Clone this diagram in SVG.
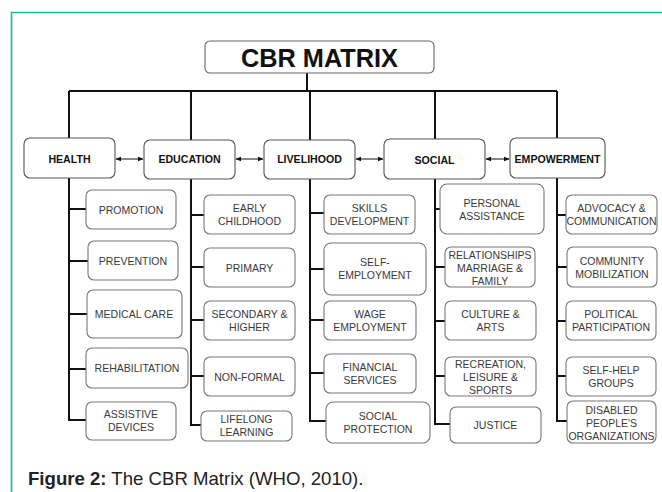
<svg xmlns="http://www.w3.org/2000/svg" width="662" height="492" viewBox="0 0 662 492">
<style>
.frame{stroke:#1cb99a;stroke-width:1.6;fill:none}
.cat rect{fill:#fff;stroke:#555;stroke-width:1.1}
.cat text{font-family:"Liberation Sans",Arial,sans-serif;font-weight:bold;font-size:10.6px;fill:#111;text-anchor:middle}
.sub rect{fill:#fff;stroke:#777;stroke-width:1.1}
.sub text{font-family:"Liberation Sans",Arial,sans-serif;font-size:10.5px;fill:#3a3a3a;text-anchor:middle}
.conn path{stroke:#111;stroke-width:2;fill:none}
.arr line{stroke:#111;stroke-width:1;marker-start:url(#ah);marker-end:url(#ah)}
.cap{font-family:"Liberation Sans",Arial,sans-serif;font-size:18.6px;fill:#222}
</style>
<defs>
<marker id="ah" viewBox="0 0 10 10" refX="9" refY="5" markerWidth="6" markerHeight="6" orient="auto-start-reverse" markerUnits="userSpaceOnUse">
<path d="M0,1 L10,5 L0,9 z" fill="#111"/>
</marker>
</defs>
<rect width="662" height="492" fill="#fff"/>
<path class="frame" d="M11.5,492 V12.5 H662"/>

<g id="connectors" class="conn">
<path d="M307,73 V91 M69,91 H557 M69,91 V138 M191,91 V140 M310,91 V140 M435,91 V139 M557,91 V138"/>
<path d="M69,178 V420 H86 M69,209 H86 M69,261 H88 M69,314 H87 M69,369 H86"/>
<path d="M191,179 V425 H201 M191,215 H204 M191,267 H204 M191,320 H204 M191,376 H204"/>
<path d="M310,179 V421 H326 M310,213 H324 M310,269 H324 M310,320 H324 M310,373 H324"/>
<path d="M435,179 V424 H450 M435,209 H440 M435,267 H445 M435,321 H445 M435,376 H445"/>
<path d="M557,178 V421 H567 M557,215 H566 M557,267 H567 M557,321 H566 M557,376 H566"/>
<g class="arr">
<line x1="116" y1="159" x2="143" y2="159"/>
<line x1="236" y1="159" x2="263" y2="159"/>
<line x1="356" y1="159" x2="383" y2="159"/>
<line x1="486" y1="159" x2="509" y2="159"/>
</g>
</g>

<g id="cbr-matrix">
<rect x="205" y="41" width="229" height="32" rx="5" fill="#fff" stroke="#666" stroke-width="1.1"/>
<text x="319.5" y="67" font-family="'Liberation Sans',Arial,sans-serif" font-weight="bold" font-size="26" fill="#111" text-anchor="middle" textLength="157" lengthAdjust="spacingAndGlyphs">CBR MATRIX</text>
</g>

<g id="health" class="cat"><rect x="24" y="138" width="91" height="40" rx="6"/><text x="69.5" y="162.5">HEALTH</text></g>
<g id="education" class="cat"><rect x="144" y="140" width="91" height="39" rx="6"/><text x="189.5" y="163">EDUCATION</text></g>
<g id="livelihood" class="cat"><rect x="264" y="140" width="91" height="39" rx="6"/><text x="309.5" y="163">LIVELIHOOD</text></g>
<g id="social" class="cat"><rect x="384" y="139" width="101" height="40" rx="6"/><text x="434.5" y="163.5">SOCIAL</text></g>
<g id="empowerment" class="cat"><rect x="510" y="138" width="95" height="40" rx="6"/><text x="557.5" y="162.5">EMPOWERMENT</text></g>

<g id="promotion" class="sub"><rect x="86" y="190" width="90" height="39" rx="6"/><text x="131" y="213.5">PROMOTION</text></g>
<g id="prevention" class="sub"><rect x="88" y="241" width="90" height="39" rx="6"/><text x="133" y="264.5">PREVENTION</text></g>
<g id="medical-care" class="sub"><rect x="87" y="290" width="95" height="48" rx="6"/><text x="134" y="318">MEDICAL CARE</text></g>
<g id="rehabilitation" class="sub"><rect x="86" y="348" width="102" height="40" rx="6"/><text x="137" y="372">REHABILITATION</text></g>
<g id="assistive-devices" class="sub"><rect x="86" y="402" width="90" height="38" rx="6"/><text x="131" y="418"><tspan x="131">ASSISTIVE</tspan><tspan x="131" dy="13">DEVICES</tspan></text></g>

<g id="early-childhood" class="sub"><rect x="204" y="195" width="91" height="39" rx="6"/><text x="249.5" y="212"><tspan x="249.5">EARLY</tspan><tspan x="249.5" dy="13">CHILDHOOD</tspan></text></g>
<g id="primary" class="sub"><rect x="204" y="248" width="91" height="39" rx="6"/><text x="249.5" y="271.5">PRIMARY</text></g>
<g id="secondary-higher" class="sub"><rect x="204" y="301" width="91" height="39" rx="6"/><text x="249.5" y="318"><tspan x="249.5">SECONDARY &amp;</tspan><tspan x="249.5" dy="13">HIGHER</tspan></text></g>
<g id="non-formal" class="sub"><rect x="204" y="357" width="91" height="39" rx="6"/><text x="249.5" y="380.5">NON-FORMAL</text></g>
<g id="lifelong-learning" class="sub"><rect x="201" y="411" width="91" height="30" rx="6"/><text x="246.5" y="422.5"><tspan x="246.5">LIFELONG</tspan><tspan x="246.5" dy="13">LEARNING</tspan></text></g>

<g id="skills-development" class="sub"><rect x="324" y="195" width="91" height="39" rx="6"/><text x="369.5" y="212"><tspan x="369.5">SKILLS</tspan><tspan x="369.5" dy="13">DEVELOPMENT</tspan></text></g>
<g id="self-employment" class="sub"><rect x="324" y="243" width="102" height="52" rx="7"/><text x="375" y="266"><tspan x="375">SELF-</tspan><tspan x="375" dy="13">EMPLOYMENT</tspan></text></g>
<g id="wage-employment" class="sub"><rect x="324" y="301" width="92" height="39" rx="6"/><text x="370" y="318"><tspan x="370">WAGE</tspan><tspan x="370" dy="13">EMPLOYMENT</tspan></text></g>
<g id="financial-services" class="sub"><rect x="324" y="354" width="92" height="39" rx="6"/><text x="370" y="371"><tspan x="370">FINANCIAL</tspan><tspan x="370" dy="13">SERVICES</tspan></text></g>
<g id="social-protection" class="sub"><rect x="326" y="402" width="104" height="41" rx="7"/><text x="378" y="419.5"><tspan x="378">SOCIAL</tspan><tspan x="378" dy="13">PROTECTION</tspan></text></g>

<g id="personal-assistance" class="sub"><rect x="440" y="184" width="104" height="50" rx="7"/><text x="492" y="206.5"><tspan x="492">PERSONAL</tspan><tspan x="492" dy="13">ASSISTANCE</tspan></text></g>
<g id="relationships" class="sub"><rect x="445" y="247" width="90" height="40" rx="6"/><text x="490" y="258.5"><tspan x="490">RELATIONSHIPS</tspan><tspan x="490" dy="13">MARRIAGE &amp;</tspan><tspan x="490" dy="13">FAMILY</tspan></text></g>
<g id="culture-arts" class="sub"><rect x="445" y="301" width="91" height="39" rx="6"/><text x="490.5" y="318"><tspan x="490.5">CULTURE &amp;</tspan><tspan x="490.5" dy="13">ARTS</tspan></text></g>
<g id="recreation" class="sub"><rect x="445" y="357" width="91" height="39" rx="6"/><text x="490.5" y="368"><tspan x="490.5">RECREATION,</tspan><tspan x="490.5" dy="13">LEISURE &amp;</tspan><tspan x="490.5" dy="13">SPORTS</tspan></text></g>
<g id="justice" class="sub"><rect x="450" y="407" width="91" height="36" rx="6"/><text x="495.5" y="428.5">JUSTICE</text></g>

<g id="advocacy" class="sub"><rect x="566" y="195" width="91" height="39" rx="6"/><text x="611.5" y="212"><tspan x="611.5">ADVOCACY &amp;</tspan><tspan x="611.5" dy="13">COMMUNICATION</tspan></text></g>
<g id="community-mobilization" class="sub"><rect x="567" y="247" width="90" height="40" rx="6"/><text x="612" y="264.5"><tspan x="612">COMMUNITY</tspan><tspan x="612" dy="13">MOBILIZATION</tspan></text></g>
<g id="political-participation" class="sub"><rect x="566" y="301" width="90" height="39" rx="6"/><text x="611" y="318"><tspan x="611">POLITICAL</tspan><tspan x="611" dy="13">PARTICIPATION</tspan></text></g>
<g id="self-help-groups" class="sub"><rect x="566" y="357" width="90" height="39" rx="6"/><text x="611" y="374"><tspan x="611">SELF-HELP</tspan><tspan x="611" dy="13">GROUPS</tspan></text></g>
<g id="dpo" class="sub"><rect x="567" y="401" width="89" height="42" rx="6"/><text x="611.5" y="413.5"><tspan x="611.5">DISABLED</tspan><tspan x="611.5" dy="13">PEOPLE'S</tspan><tspan x="611.5" dy="13">ORGANIZATIONS</tspan></text></g>

<text class="cap" x="28" y="485"><tspan font-weight="bold">Figure 2:</tspan> The CBR Matrix (WHO, 2010).</text>
</svg>
